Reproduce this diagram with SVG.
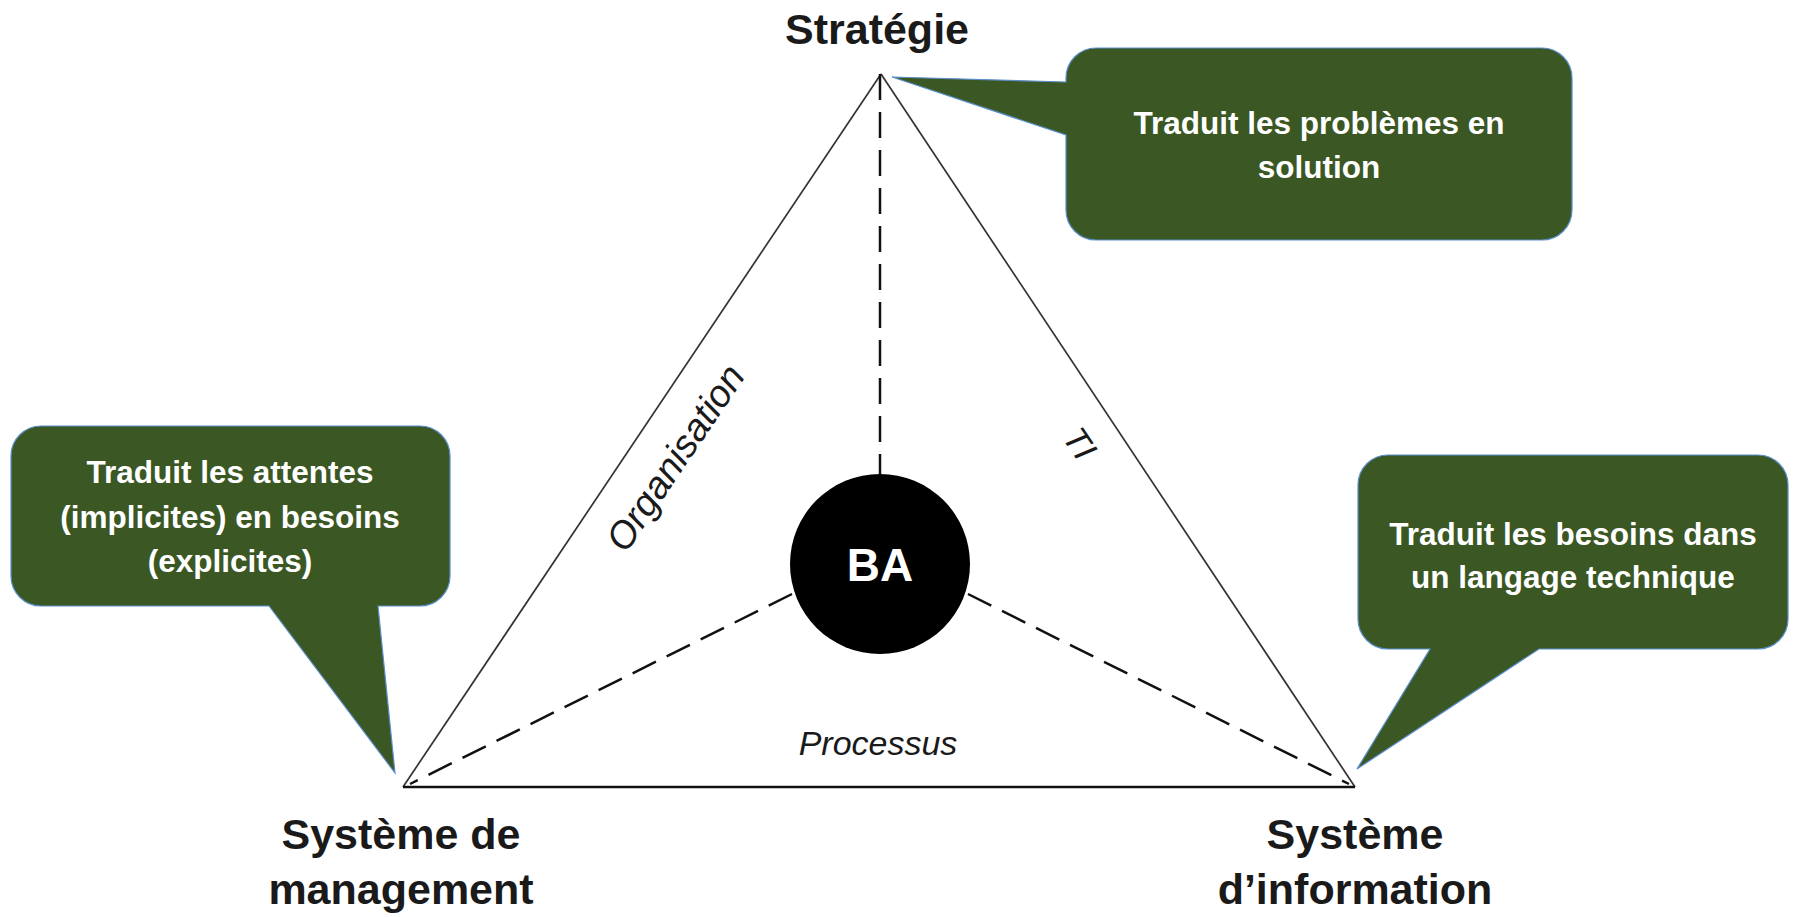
<svg xmlns="http://www.w3.org/2000/svg" width="1794" height="917" viewBox="0 0 1794 917">
<style>
  .edge { stroke: #333; stroke-width: 1.7; fill: none; }
  .base { stroke: #111; stroke-width: 2.6; fill: none; }
  .dash { stroke: #111; stroke-width: 2.5; stroke-dasharray: 26 12; fill: none; }
  .callout { fill: #3B5724; stroke: #5B8FCB; stroke-width: 1.2; }
  .ctext { font-family: "Liberation Sans", Arial, sans-serif; font-weight: bold; font-size: 31.5px; fill: #ffffff; text-anchor: middle; }
  .vlabel { font-family: "Liberation Sans", Arial, sans-serif; font-weight: bold; font-size: 43px; fill: #1a1a1a; text-anchor: middle; }
  .elabel { font-family: "Liberation Sans", Arial, sans-serif; font-style: italic; font-size: 34px; fill: #1a1a1a; text-anchor: middle; }
</style>
<rect width="1794" height="917" fill="#ffffff"/>
<g id="connectors">
  <line class="edge" x1="881" y1="74" x2="403" y2="787"/>
  <line class="edge" x1="881" y1="74" x2="1355" y2="787"/>
  <line class="base" x1="403" y1="787" x2="1355" y2="787"/>
  <line class="dash" x1="880" y1="74" x2="880" y2="474"/>
  <line class="dash" x1="792" y1="594" x2="410" y2="784"/>
  <line class="dash" x1="968" y1="594" x2="1349" y2="784"/>
</g>
<g id="edge-labels">
  <text class="elabel" style="font-size: 38px;" transform="translate(686 465) rotate(-56)">Organisation</text>
  <text class="elabel" transform="translate(1070 450) rotate(56)">TI</text>
  <text class="elabel" x="878" y="755">Processus</text>
</g>
<g id="node-ba">
  <circle cx="880" cy="564" r="90" fill="#000000"/>
  <text x="880" y="581" style="font-family: 'Liberation Sans', Arial, sans-serif; font-weight: bold; font-size: 46px; fill: #ffffff; text-anchor: middle;">BA</text>
</g>
<g id="node-strategie">
  <text class="vlabel" x="877" y="44">Stratégie</text>
</g>
<g id="node-management">
  <text class="vlabel" x="401" y="849">Système de</text>
  <text class="vlabel" x="401" y="904">management</text>
</g>
<g id="node-information">
  <text class="vlabel" x="1355" y="849">Système</text>
  <text class="vlabel" x="1355" y="904">d’information</text>
</g>
<g id="callout-strategie">
  <path class="callout" d="M 1096 48 H 1542 A 30 30 0 0 1 1572 78 V 210 A 30 30 0 0 1 1542 240 H 1096 A 30 30 0 0 1 1066 210 V 135 L 892 77 L 1066 82 V 78 A 30 30 0 0 1 1096 48 Z"/>
  <text class="ctext" x="1319" y="134">Traduit les problèmes en</text>
  <text class="ctext" x="1319" y="178">solution</text>
</g>
<g id="callout-management">
  <path class="callout" d="M 41 426 H 420 A 30 30 0 0 1 450 456 V 576 A 30 30 0 0 1 420 606 H 378 L 395 773 L 269 606 H 41 A 30 30 0 0 1 11 576 V 456 A 30 30 0 0 1 41 426 Z"/>
  <text class="ctext" x="230" y="483">Traduit les attentes</text>
  <text class="ctext" x="230" y="528">(implicites) en besoins</text>
  <text class="ctext" x="230" y="572">(explicites)</text>
</g>
<g id="callout-information">
  <path class="callout" d="M 1388 455 H 1758 A 30 30 0 0 1 1788 485 V 619 A 30 30 0 0 1 1758 649 H 1539 L 1357 769 L 1430 649 H 1388 A 30 30 0 0 1 1358 619 V 485 A 30 30 0 0 1 1388 455 Z"/>
  <text class="ctext" x="1573" y="545">Traduit les besoins dans</text>
  <text class="ctext" x="1573" y="588">un langage technique</text>
</g>
</svg>
